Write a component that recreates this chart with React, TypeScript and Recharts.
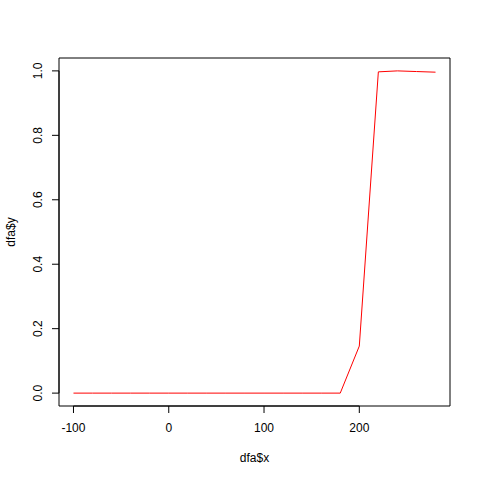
import {
  LineChart,
  Line,
  XAxis,
  YAxis,
  ReferenceArea,
  ReferenceLine,
  Label,
} from 'recharts';

// x values of the series (dfa$x)
const xValues = [
  -100, -80, -60, -40, -20, 0, 20, 40, 60, 80, 100, 120, 140, 160, 180, 200,
  220, 240, 260, 280,
];
// y values of the series (dfa$y)
const yValues = [
  0, 0, 0, 0, 0, 0, 0, 0, 0, 0, 0, 0, 0, 0, 0, 0.146, 0.997, 1.0, 0.998,
  0.996,
];
const xTicks = [-100, 0, 100, 200];
const yTicks = [0, 0.2, 0.4, 0.6, 0.8, 1.0];

// R pads the data range by 4% on each side
const xDomain: [number, number] = [-115.2, 295.2];
const yDomain: [number, number] = [-0.04, 1.04];

const data = xValues.map((x, i) => ({ x, y: yValues[i] }));

const FONT = '"Liberation Sans", Arial, Helvetica, sans-serif';

function XTick({ x, y, payload }: any) {
  return (
    <text
      x={x}
      y={y + 13}
      textAnchor="middle"
      dominantBaseline="central"
      fontSize={12}
      fontFamily={FONT}
      fill="#000"
    >
      {payload.value}
    </text>
  );
}

function YTick({ x, y, payload }: any) {
  const tx = x - 12;
  return (
    <text
      x={tx}
      y={y}
      transform={`rotate(-90, ${tx}, ${y})`}
      textAnchor="middle"
      dominantBaseline="central"
      fontSize={12}
      fontFamily={FONT}
      fill="#000"
    >
      {Number(payload.value).toFixed(1)}
    </text>
  );
}

export default function App() {
  return (
    <div style={{ position: 'absolute', left: 0, top: 0, background: '#fff' }}>
      <LineChart
        width={480}
        height={480}
        data={data}
        margin={{ top: 58, right: 30, bottom: 0, left: 0 }}
      >
        <XAxis
          dataKey="x"
          type="number"
          domain={xDomain}
          ticks={xTicks}
          allowDataOverflow
          axisLine={false}
          tickSize={7}
          stroke="#000"
          height={74}
          tick={<XTick />}
        >
          <Label
            content={({ viewBox }: any) => (
              <text
                x={viewBox.x + viewBox.width / 2}
                y={viewBox.y + 52}
                textAnchor="middle"
                dominantBaseline="central"
                fontSize={12}
                fontFamily={FONT}
                fill="#000"
              >
                dfa$x
              </text>
            )}
          />
        </XAxis>
        <YAxis
          type="number"
          domain={yDomain}
          ticks={yTicks}
          allowDataOverflow
          axisLine={false}
          tickSize={7}
          stroke="#000"
          width={59}
          tick={<YTick />}
        >
          <Label
            content={({ viewBox }: any) => {
              const cx = 11;
              const cy = viewBox.y + viewBox.height / 2;
              return (
                <text
                  x={cx}
                  y={cy}
                  transform={`rotate(-90, ${cx}, ${cy})`}
                  textAnchor="middle"
                  dominantBaseline="central"
                  fontSize={12}
                  fontFamily={FONT}
                  fill="#000"
                >
                  dfa$y
                </text>
              );
            }}
          />
        </YAxis>
        <ReferenceArea
          x1={xDomain[0]}
          x2={xDomain[1]}
          y1={yDomain[0]}
          y2={yDomain[1]}
          fill="none"
          stroke="#000"
          strokeWidth={1}
        />
        <ReferenceLine
          segment={[
            { x: xTicks[0], y: yDomain[0] },
            { x: xTicks[xTicks.length - 1], y: yDomain[0] },
          ]}
          stroke="#000"
        />
        <ReferenceLine
          segment={[
            { x: xDomain[0], y: yTicks[0] },
            { x: xDomain[0], y: yTicks[yTicks.length - 1] },
          ]}
          stroke="#000"
        />
        <Line
          type="linear"
          dataKey="y"
          stroke="#ff0000"
          strokeWidth={1}
          dot={false}
          isAnimationActive={false}
        />
      </LineChart>
    </div>
  );
}
